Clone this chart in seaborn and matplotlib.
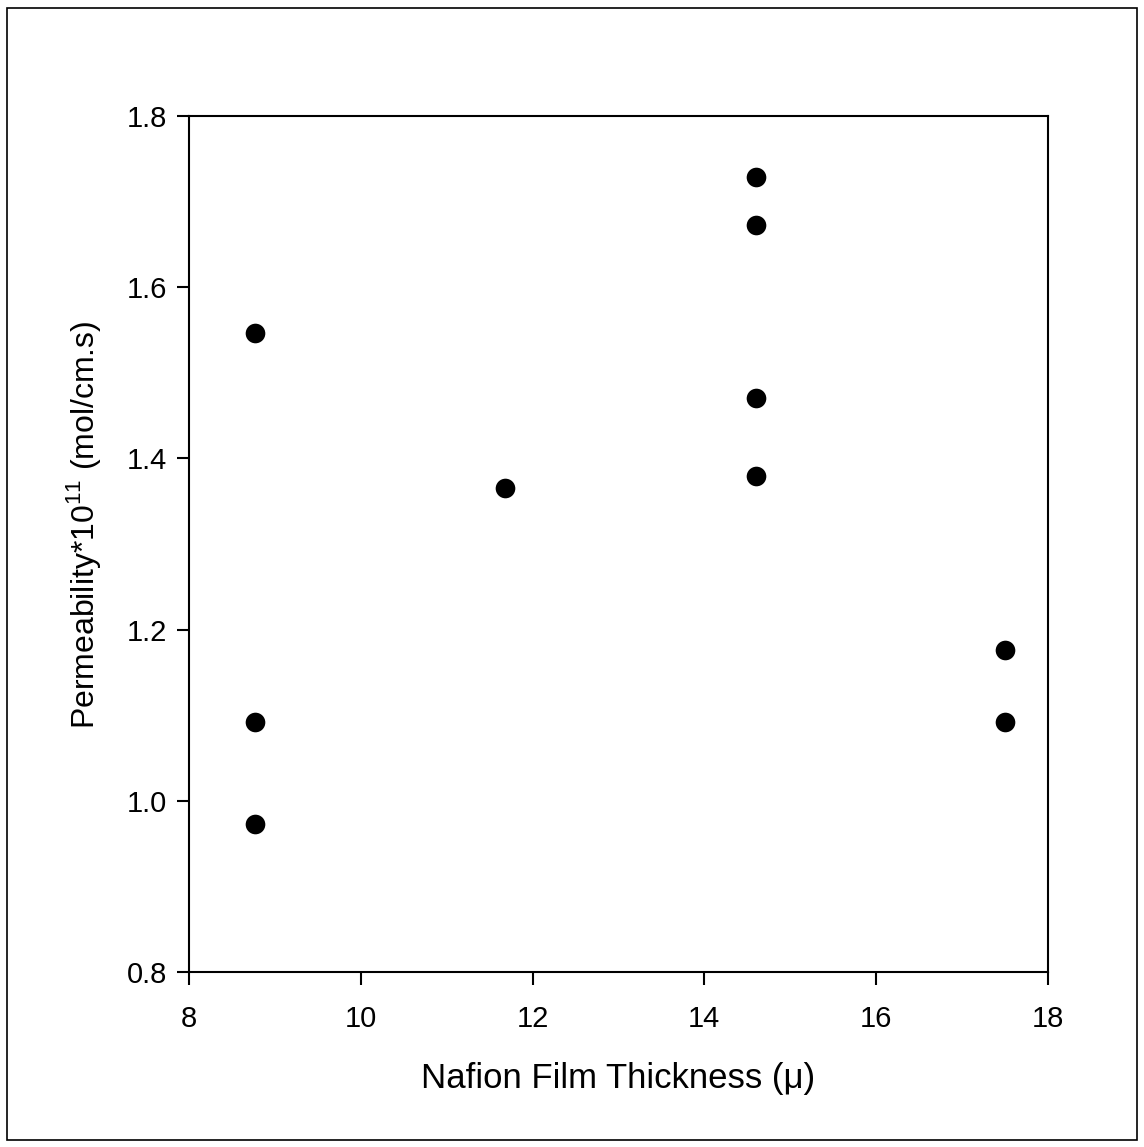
import matplotlib
matplotlib.use("Agg")
import matplotlib.pyplot as plt
import seaborn as sns
import pandas as pd
from matplotlib.patches import Rectangle

thickness = [8.77, 8.77, 8.77, 11.68, 14.6, 14.6, 14.6, 14.6, 17.5, 17.5]
permeability = [1.547, 1.092, 0.973, 1.365, 1.729, 1.673, 1.470, 1.379, 1.176, 1.092]
x_ticks = [8, 10, 12, 14, 16, 18]
y_ticks = [0.8, 1.0, 1.2, 1.4, 1.6, 1.8]

df = pd.DataFrame({"thickness": thickness, "permeability": permeability})

sns.set_theme(style="ticks")
plt.rcParams['font.family'] = ['Liberation Sans', 'DejaVu Sans']
plt.rcParams['mathtext.fontset'] = 'custom'
plt.rcParams['mathtext.rm'] = 'Liberation Sans'

fig = plt.figure(figsize=(11.44, 11.47), dpi=100)
ax = fig.add_axes([0.1652, 0.1526, 0.916 - 0.1652, 0.8989 - 0.1526])

sns.scatterplot(data=df, x="thickness", y="permeability", ax=ax,
                color="black", s=200, edgecolor="black", linewidth=0, legend=False)

ax.set_xlim(8, 18)
ax.set_ylim(0.8, 1.8)
ax.set_xticks(x_ticks)
ax.set_yticks(y_ticks)
ax.set_xticklabels([str(t) for t in x_ticks])
ax.set_yticklabels([f"{t:.1f}" for t in y_ticks])
for sp in ax.spines.values():
    sp.set_linewidth(1.5)
    sp.set_color("black")
ax.tick_params(axis="both", direction="out", length=9, width=1.5, labelsize=21,
               colors="black")
ax.tick_params(axis="y", pad=7)
ax.tick_params(axis="x", pad=15)

ax.set_xlabel("Nafion Film Thickness (μ)", fontsize=25, labelpad=21, color="black")
ax.set_ylabel(r"Permeability*10$^{\mathregular{11}}$ (mol/cm.s)", fontsize=23,
              color="black")
ax.yaxis.set_label_coords(-0.100, 0.522)

fig.patches.append(Rectangle((7 / 1144, 1 - 1140 / 1147), (1137 - 7) / 1144, (1140 - 8) / 1147,
                             transform=fig.transFigure, fill=False, edgecolor="black",
                             linewidth=1.2))

fig.savefig("out.png", dpi=100, facecolor="white")
